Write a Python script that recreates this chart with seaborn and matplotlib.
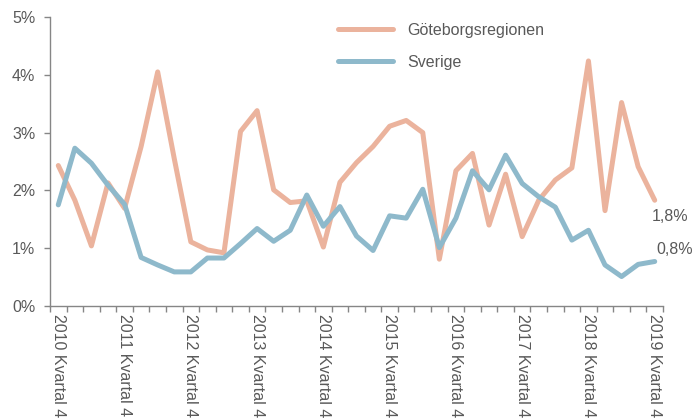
import matplotlib
matplotlib.use("Agg")
import matplotlib.pyplot as plt
import seaborn as sns
import pandas as pd
import numpy as np
from matplotlib.ticker import FixedLocator, FuncFormatter

quarters = []
y, q = 2010, 4
for _ in range(37):
    quarters.append(f"{y} Kvartal {q}")
    q += 1
    if q > 4:
        q = 1
        y += 1

goteborg = [2.43, 1.83, 1.04, 2.13, 1.69, 2.76, 4.05, 2.55, 1.11, 0.97, 0.92, 3.02,
            3.38, 2.01, 1.79, 1.82, 1.02, 2.14, 2.48, 2.76, 3.11, 3.21, 3.00, 0.81,
            2.34, 2.64, 1.40, 2.28, 1.20, 1.83, 2.18, 2.39, 4.24, 1.65, 3.52, 2.41, 1.83]
sverige = [1.75, 2.73, 2.47, 2.09, 1.76, 0.84, 0.71, 0.59, 0.59, 0.83, 0.83, 1.08,
           1.34, 1.12, 1.31, 1.92, 1.38, 1.72, 1.21, 0.96, 1.56, 1.52, 2.02, 1.01,
           1.52, 2.34, 2.01, 2.61, 2.12, 1.89, 1.71, 1.14, 1.31, 0.71, 0.51, 0.72, 0.77]
series_names = ["Göteborgsregionen", "Sverige"]
colors = ["#EBB39D", "#8EB9CB"]
end_labels = ["1,8%", "0,8%"]
yticks = [0, 1, 2, 3, 4, 5]

df = pd.DataFrame({
    "pos": list(range(len(quarters))) * 2,
    "kvartal": quarters * 2,
    "value": goteborg + sverige,
    "serie": [series_names[0]] * len(goteborg) + [series_names[1]] * len(sverige),
})

sns.set_style("white")
plt.rcParams["font.family"] = ["Liberation Sans", "DejaVu Sans"]

fs = 11.5
fig = plt.figure(figsize=(6.94, 4.19), dpi=100)
ax = fig.add_axes([50/694, 1 - 306/419, 613/694, 289/419])

sns.lineplot(data=df, x="pos", y="value", hue="serie", palette=colors,
             hue_order=series_names, linewidth=3.6, ax=ax, legend=True,
             solid_capstyle="round", solid_joinstyle="round")

ax.set_xlim(-0.5, len(quarters) - 0.5)
ax.set_ylim(0, 5)
ax.set_xlabel("")
ax.set_ylabel("")

grey = "#595959"
spine_c = "#868686"
for s in ["top", "right"]:
    ax.spines[s].set_visible(False)
for s in ["left", "bottom"]:
    ax.spines[s].set_color(spine_c)
    ax.spines[s].set_linewidth(1.0)

ax.set_yticks(yticks)
ax.yaxis.set_major_formatter(FuncFormatter(lambda v, p: f"{int(v)}%"))
ax.tick_params(axis="y", direction="out", length=4, width=1, color=spine_c,
               labelcolor=grey, labelsize=fs, pad=6.5, left=True)

major_pos = [i for i, lab in enumerate(quarters) if lab.endswith("Kvartal 4")]
ax.set_xticks(major_pos)
ax.set_xticklabels([quarters[i] for i in major_pos], rotation=270, ha="center", va="top")
ax.xaxis.set_minor_locator(FixedLocator(np.arange(-0.5, len(quarters), 1.0)))
ax.tick_params(axis="x", which="major", length=0, labelcolor=grey, labelsize=fs, pad=6)
ax.tick_params(axis="x", which="minor", direction="out", length=4, width=1,
               color=spine_c, bottom=True)

last = len(quarters) - 1
ax.annotate(end_labels[0], xy=(last, goteborg[-1]), xytext=(-2, -12),
            textcoords="offset points", ha="left", va="center",
            color=grey, fontsize=fs)
ax.annotate(end_labels[1], xy=(last, sverige[-1]), xytext=(1.5, 8.6),
            textcoords="offset points", ha="left", va="center",
            color=grey, fontsize=fs)

leg = ax.legend(loc="upper left", bbox_to_anchor=(0.465, 0.99), frameon=False,
                fontsize=fs, handlelength=3.4, handletextpad=0.95,
                labelspacing=1.05, borderaxespad=0, borderpad=0.2)
for t in leg.get_texts():
    t.set_color(grey)
for h in leg.get_lines():
    h.set_linewidth(3.6)
    h.set_solid_capstyle("round")

fig.savefig("out.png", dpi=100)
